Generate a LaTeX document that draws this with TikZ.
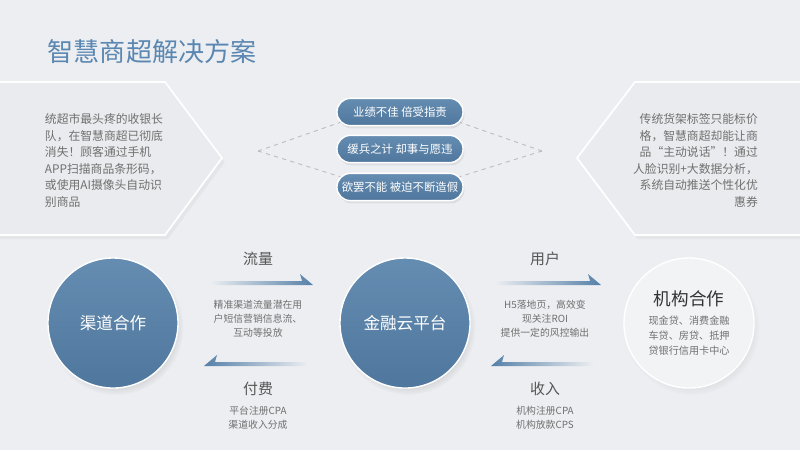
\documentclass[tikz,border=0pt]{standalone}
\usepackage{fontspec}
\setmainfont{Noto Sans CJK SC}
\usetikzlibrary{positioning, calc, shadows, arrows.meta}

\definecolor{bg}{HTML}{ECEEF1}
\definecolor{panel}{HTML}{EAEBEE}
\definecolor{steel}{HTML}{5580A8}
\definecolor{steeldark}{HTML}{4F779D}
\definecolor{steellight}{HTML}{658CB1}
\definecolor{titleblue}{HTML}{5A87B2}
\definecolor{txtgray}{HTML}{707070}
\definecolor{lblgray}{HTML}{555555}
\definecolor{dashgray}{HTML}{B8BBC0}

% half arrows: bar with a barb on the upper side
\newcommand\flowright[2]{%
  \shade[left color=bg, right color=steel]
    ($(#1)+(0,-2)$) -- ($(#2)+(-10,-2)$) -- ($(#2)+(-12,-9)$) -- ($(#2)+(1,2)$) -- ($(#1)+(0,2)$) -- cycle;}
\newcommand\flowleft[2]{%
  \shade[left color=steel, right color=bg]
    ($(#1)+(0,-2)$) -- ($(#2)+(10,-2)$) -- ($(#2)+(12,-9)$) -- ($(#2)+(-1,2)$) -- ($(#1)+(0,2)$) -- cycle;}

\begin{document}
\begin{tikzpicture}[x=0.025cm, y=-0.025cm,
  panelbox/.style={fill=panel, draw=white, line width=1.2pt, drop shadow={opacity=0.08, shadow xshift=2pt, shadow yshift=-3pt}},
  paintext/.style={align=#1, text=txtgray, font=\fontsize{8.4}{11.8}\selectfont},
  pill/.style={rectangle, rounded corners=9.5pt, draw=white, line width=1pt, top color=steellight, bottom color=steeldark,
    minimum width=3.15cm, minimum height=0.68cm, text=white, font=\fontsize{8.1}{10}\selectfont,
    drop shadow={opacity=0.15, shadow xshift=1pt, shadow yshift=-2pt}},
  bluedisc/.style={circle, minimum size=3.25cm, draw=white, line width=1pt, top color=steellight, bottom color=steeldark,
    text=white, font=\fontsize{11.8}{14}\selectfont,
    circular drop shadow={opacity=0.25, shadow xshift=2pt, shadow yshift=-3pt, shadow scale=1.04}},
  greydisc/.style={circle, minimum size=3.25cm, draw=white, line width=1pt, fill=panel!60!white,
    circular drop shadow={opacity=0.15, shadow xshift=2pt, shadow yshift=-3pt, shadow scale=1.04}},
  flowlbl/.style={text=lblgray, font=\fontsize{10.6}{12}\selectfont},
  flowtxt/.style={align=center, text=txtgray, font=\fontsize{7}{10}\selectfont},
  guide/.style={draw=dashgray, dashed, line width=0.6pt}]

\fill[bg] (0,0) rectangle (800,450);
\useasboundingbox (0,0) rectangle (800,450);

\node[anchor=west, text=titleblue, font=\fontsize{18.5}{20}\selectfont] (title) at (43,52) {智慧商超解决方案};

% side panels
\path[panelbox] (-5,82) -- (165,82) -- (222,158) -- (165,235) -- (-5,235) -- cycle;
\path[panelbox] (805,82) -- (635,82) -- (577,158) -- (635,235) -- (805,235) -- cycle;
\node[paintext=left] (painL) at (104,160.5) {统超市最头疼的收银长\\队，在智慧商超已彻底\\消失！顾客通过手机\\APP扫描商品条形码，\\或使用AI摄像头自动识\\别商品};
\node[paintext=right] (painR) at (695.5,160.5) {传统货架标签只能标价\\格，智慧商超却能让商\\品“主动说话”！通过\\人脸识别+大数据分析，\\系统自动推送个性化优\\惠券};

% centre pills
\coordinate (vL) at (258,151);
\coordinate (vR) at (542,151);
\node[pill] (pillA) at (400,112) {业绩不佳 倍受指责};
\node[pill] (pillB) at (400,149) {缓兵之计 却事与愿违};
\node[pill] (pillC) at (400,187) {欲罢不能 被迫不断造假};
\draw[guide] (vL) -- ($(pillA.south west)+(4,-4)$);
\draw[guide] (vL) -- ($(pillC.north west)+(4,4)$);
\draw[guide] (vR) -- ($(pillA.south east)+(-4,-4)$);
\draw[guide] (vR) -- ($(pillC.north east)+(-4,4)$);

% circles
\node[bluedisc] (chan) at (113,323) {渠道合作};
\node[bluedisc] (fin) at (405,323) {金融云平台};
\node[greydisc] (inst) at (689,323) {};
\node[text=black!80, font=\fontsize{12.5}{14}\selectfont] (instT) at ($(inst.center)+(0,-24)$) {机构合作};
\node[flowtxt, font=\fontsize{7.2}{10.6}\selectfont] (instB) at ($(inst.center)+(0,13)$) {现金贷、消费金融\\车贷、房贷、抵押\\贷银行信用卡中心};

% flows
\coordinate (fa1) at (210,283); \coordinate (fa2) at (312,283);
\coordinate (fb1) at (308,364); \coordinate (fb2) at (205,364);
\coordinate (fc1) at (495,283); \coordinate (fc2) at (600,283);
\coordinate (fd1) at (593,364); \coordinate (fd2) at (492,364);
\flowright{fa1}{fa2}
\flowleft{fb1}{fb2}
\flowright{fc1}{fc2}
\flowleft{fd1}{fd2}

\node[flowlbl] (trafLbl) at (258,259) {流量};
\node[flowtxt] (trafTxt) at (258,319) {精准渠道流量潜在用\\户短信营销信息流、\\互动等投放};
\node[flowlbl] (payLbl) at (258,389) {付费};
\node[flowtxt] (payTxt) at (258,418) {平台注册CPA\\渠道收入分成};

\node[flowlbl] (userLbl) at (545,259) {用户};
\node[flowtxt] (userTxt) at (545,319) {H5落地页，高效变\\现关注ROI\\提供一定的风控输出};
\node[flowlbl] (incLbl) at (545,389) {收入};
\node[flowtxt] (incTxt) at (545,418) {机构注册CPA\\机构放款CPS};
\end{tikzpicture}
\end{document}
